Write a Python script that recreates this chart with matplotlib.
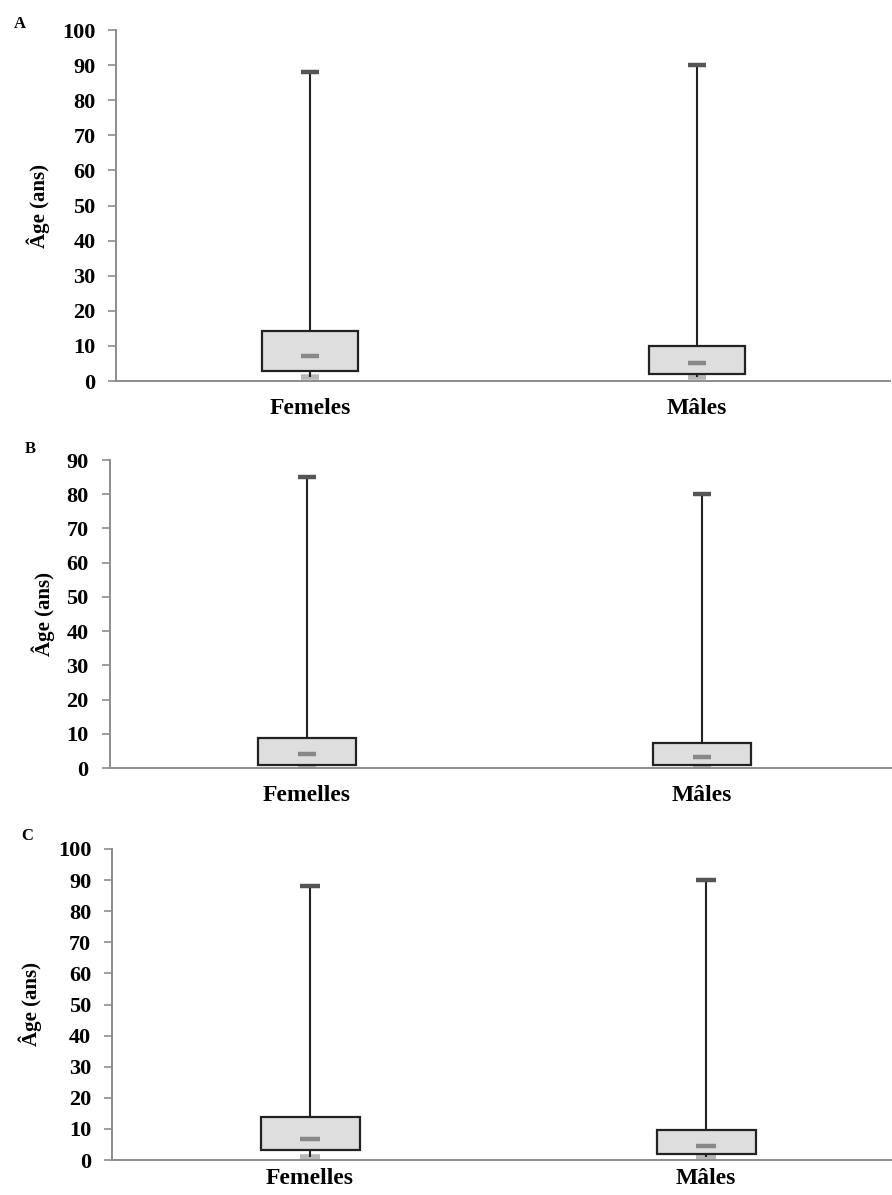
import matplotlib
matplotlib.use("Agg")
import matplotlib.pyplot as plt

# ---- data ----
groups = ["Femelles", "Mâles"]
labels_a = ["Femeles", "Mâles"]      # typo kept as in the original panel A
labels_bc = ["Femelles", "Mâles"]

# panel A
a_min = [1, 1]
a_q1 = [2.8, 2.0]
a_med = [7.1, 5.1]
a_q3 = [14.2, 10.0]
a_max = [88, 90]

# panel B
b_min = [1, 1]
b_q1 = [0.9, 0.9]
b_med = [4.1, 3.2]
b_q3 = [8.8, 7.3]
b_max = [85, 80]

# panel C
c_min = [1, 1]
c_q1 = [3.3, 1.9]
c_med = [6.6, 4.6]
c_q3 = [13.8, 9.7]
c_max = [88, 90]

positions = [0.5, 1.5]

plt.rcParams["font.family"] = ["Liberation Serif", "DejaVu Serif"]
plt.rcParams["font.weight"] = "bold"

W, H = 892, 1195
fig = plt.figure(figsize=(W / 100, H / 100), dpi=100)


def make_axes(left_px, top_px, bottom_px, unit_px):
    # axes spans two category units
    width_px = 2 * unit_px
    return fig.add_axes([left_px / W, 1 - bottom_px / H,
                         width_px / W, (bottom_px - top_px) / H])


def draw_panel(ax, mins, q1, med, q3, maxs, ymax, xlabels, letter, letter_xy,
               ylab_x, xpad=12):
    box_w = 0.25
    cap_hw = 0.024

    ax.bar(positions, [t - b for t, b in zip(q3, q1)], bottom=q1, width=box_w,
           color="#dedede", edgecolor="#222222", linewidth=1.6, zorder=3)
    # whiskers
    ax.vlines(positions, q3, maxs, color="#222222", linewidth=1.5, zorder=2)
    ax.vlines(positions, mins, q1, color="#222222", linewidth=1.5, zorder=2)
    # max caps, medians, mins
    ax.hlines(maxs, [p - cap_hw for p in positions], [p + cap_hw for p in positions],
              color="#555555", linewidth=3.2, zorder=4)
    ax.hlines(med, [p - cap_hw for p in positions], [p + cap_hw for p in positions],
              color="#888888", linewidth=3.2, zorder=4)
    ax.hlines(mins, [p - cap_hw for p in positions], [p + cap_hw for p in positions],
              color="#b8b8b8", linewidth=4.0, zorder=1, clip_on=False)

    ax.set_xlim(0, 2)
    ax.set_ylim(0, ymax)
    ax.set_yticks(range(0, ymax + 1, 10))
    ax.set_xticks(positions)
    ax.set_xticklabels(xlabels, fontsize=17, fontweight="bold")
    ax.tick_params(axis="x", length=0, pad=xpad)
    ax.tick_params(axis="y", length=6, width=1.2, color="#8c8c8c", pad=9,
                   labelsize=16)
    for lab in ax.get_yticklabels():
        lab.set_fontweight("bold")

    for s in ("top", "right"):
        ax.spines[s].set_visible(False)
    for s in ("left", "bottom"):
        ax.spines[s].set_color("#8c8c8c")
        ax.spines[s].set_linewidth(1.4)

    ax.set_ylabel("Âge (ans)", fontsize=15, fontweight="bold")
    ax.yaxis.set_label_coords(ylab_x, 0.5)

    fig.text(letter_xy[0] / W, 1 - letter_xy[1] / H, letter, fontsize=12,
             fontweight="bold", ha="center", va="center")


ax_a = make_axes(116.5, 30, 381, 387)
draw_panel(ax_a, a_min, a_q1, a_med, a_q3, a_max, 100, labels_a, "A", (20, 24), -0.086)

ax_b = make_axes(109.5, 460, 768, 395)
draw_panel(ax_b, b_min, b_q1, b_med, b_q3, b_max, 90, labels_bc, "B", (30, 449), -0.069)

ax_c = make_axes(112, 849, 1160, 396)
draw_panel(ax_c, c_min, c_q1, c_med, c_q3, c_max, 100, labels_bc, "C", (27, 836), -0.088,
           xpad=6)

fig.savefig("out.png", dpi=100)
